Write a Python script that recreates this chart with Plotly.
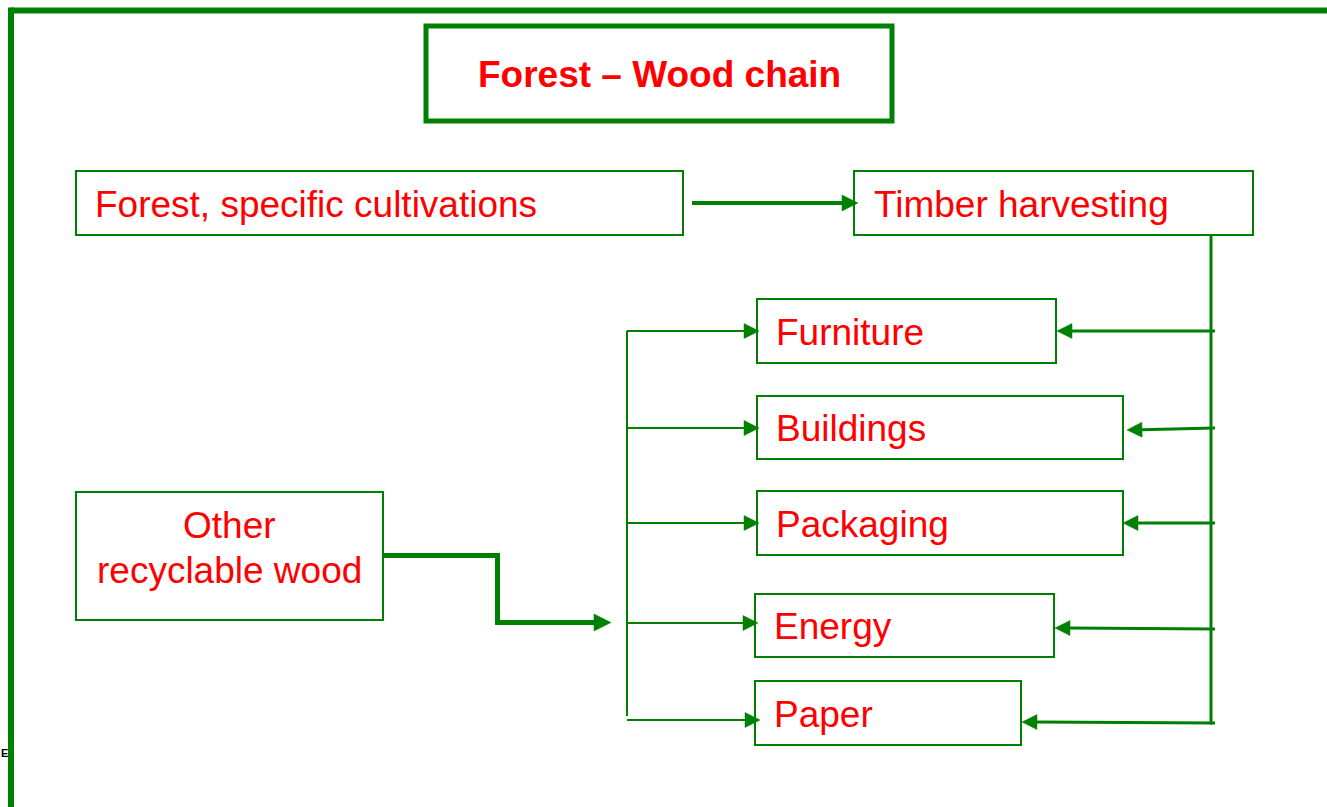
import plotly.graph_objects as go

# ---- content ----
title_text = "Forest – Wood chain"
source_labels = ["Forest, specific cultivations", "Timber harvesting"]
product_labels = ["Furniture", "Buildings", "Packaging", "Energy", "Paper"]
recycle_lines = ["Other", "recyclable wood"]
corner_text = "E"

# ---- geometry (pixel layout) ----
W, H = 1327, 807
GREEN = "#008000"
RED = "#FF0000"
FONT = "Liberation Sans, Arial, sans-serif"

title_box = (426, 26, 892, 121)
source_boxes = [(76, 171, 683, 235), (854, 171, 1253, 235)]
source_text_x = [93, 872]
product_boxes = [(757, 299, 1056, 363), (757, 396, 1123, 459), (757, 491, 1123, 555),
                 (755, 594, 1054, 657), (755, 681, 1021, 745)]
product_text_x = [774, 774, 774, 772, 772]
recycle_box = (76, 492, 383, 620)

left_arrow_y = [331, 428, 523, 623, 720]
left_arrow_tip = [759, 759, 759, 758, 760]
right_arrow_y0 = [331, 428, 523, 629, 723]
right_arrow_y1 = [331, 430, 523, 628, 722]
right_arrow_tip = [1057, 1127, 1123, 1055, 1022]

shapes = []
annotations = []


def rect(b, width, color=GREEN):
    shapes.append(dict(type="rect", xref="x", yref="y", x0=b[0], y0=b[1], x1=b[2], y1=b[3],
                       line=dict(color=color, width=width), fillcolor="rgba(0,0,0,0)"))


def line(x0, y0, x1, y1, width):
    shapes.append(dict(type="line", xref="x", yref="y", x0=x0, y0=y0, x1=x1, y1=y1,
                       line=dict(color=GREEN, width=width)))


def path(points, width):
    d = "M " + " L ".join(f"{x},{y}" for x, y in points)
    shapes.append(dict(type="path", xref="x", yref="y", path=d,
                       line=dict(color=GREEN, width=width), fillcolor="rgba(0,0,0,0)"))


def arrow(x0, y0, x1, y1, width, hl=15, hw=7.5):
    import math
    dx, dy = x1 - x0, y1 - y0
    L = math.hypot(dx, dy)
    ux, uy = dx / L, dy / L
    bx, by = x1 - ux * hl, y1 - uy * hl
    line(x0, y0, bx + ux * 1, by + uy * 1, width)
    px, py = -uy, ux
    shapes.append(dict(type="path", xref="x", yref="y",
                       path=f"M {x1},{y1} L {bx + px * hw},{by + py * hw} L {bx - px * hw},{by - py * hw} Z",
                       line=dict(color=GREEN, width=0.5), fillcolor=GREEN))


def text(x, y, s, size=37, bold=False, xanchor="left", color=RED, xref="x"):
    annotations.append(dict(xref=xref, yref="y", x=x, y=y, text=f"<b>{s}</b>" if bold else s,
                            showarrow=False, xanchor=xanchor, yanchor="middle",
                            font=dict(family=FONT, size=size, color=color)))


# outer frame
line(11, 10.5, W + 5, 10.5, 6)
line(11, 7.5, 11, H + 5, 6)

# title
rect(title_box, 5)
text((title_box[0] + title_box[2]) / 2, 74, title_text, bold=True, xanchor="center")

# source boxes
for b, tx, lab in zip(source_boxes, source_text_x, source_labels):
    rect(b, 2)
    text(tx, (b[1] + b[3]) / 2 + 1, lab)

arrow(692, 203, 858, 203, 4, hl=16, hw=8)

# products
for b, tx, lab in zip(product_boxes, product_text_x, product_labels):
    rect(b, 2)
    text(tx, (b[1] + b[3]) / 2 + 1, lab)

# right distribution line from timber harvesting
line(1211, 235, 1211, 724.5, 3)
for y0, y1, tip in zip(right_arrow_y0, right_arrow_y1, right_arrow_tip):
    arrow(1215, y0, tip, y1, 3)

# left distribution line
line(627, 331, 627, 716, 2)
for y, tip in zip(left_arrow_y, left_arrow_tip):
    arrow(627, y, tip, y, 2)

# recyclable wood
rect(recycle_box, 2)
cx = (recycle_box[0] + recycle_box[2]) / 2
text(cx, 525, recycle_lines[0], xanchor="center")
text(cx, 570, recycle_lines[1], xanchor="center")
path([(383, 555.5), (497.5, 555.5), (497.5, 622.5), (596, 622.5)], 5)
arrow(590, 622.5, 611, 622.5, 5, hl=17, hw=8.5)

# corner letter (paper x so it is not hidden outside the axis range)
text(-0.001, 753, corner_text, size=11, bold=True, xanchor="left", color="#000000", xref="paper")

fig = go.Figure()
fig.update_layout(
    width=W, height=H, autosize=False,
    margin=dict(l=0, r=0, t=0, b=0, pad=0),
    paper_bgcolor="white", plot_bgcolor="white",
    xaxis=dict(range=[0, W], visible=False, fixedrange=True),
    yaxis=dict(range=[H, 0], visible=False, fixedrange=True),
    shapes=shapes, annotations=annotations, showlegend=False,
)
fig.write_html("out.html", config={"displayModeBar": False},
               post_script="document.body.style.margin='0';document.body.style.overflow='hidden';")
